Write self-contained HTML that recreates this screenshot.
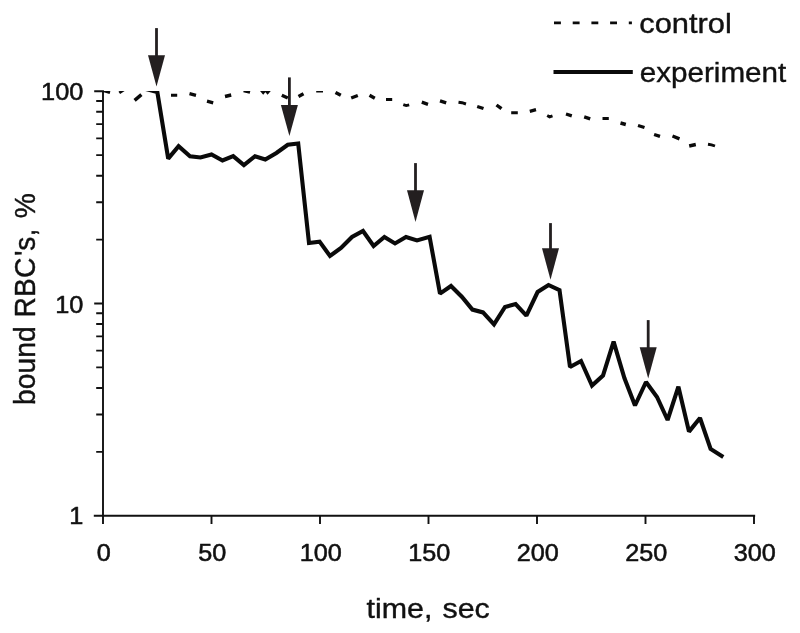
<!DOCTYPE html>
<html><head><meta charset="utf-8"><title>bound RBC's vs time</title>
<style>html,body{margin:0;padding:0;background:#fff}body{width:800px;height:633px;overflow:hidden}svg text{font-family:"Liberation Sans",sans-serif}</style></head>
<body>
<svg width="800" height="633" viewBox="0 0 800 633" style="display:block">
<rect width="800" height="633" fill="#fff"/>
<defs><clipPath id="c"><rect x="100" y="91" width="700" height="430"/></clipPath></defs>
<path d="M103.0,90.35 V516.65 M93.8,515.75 H755.15 M103.00,515.75 V523.9 M211.50,515.75 V523.9 M320.00,515.75 V523.9 M428.50,515.75 V523.9 M537.00,515.75 V523.9 M645.50,515.75 V523.9 M754.00,515.75 V523.9 M94.2,91.25 H103.0 M94.2,303.50 H103.0 M94.2,515.75 H103.0 M96.2,239.61 H103.0 M96.2,202.23 H103.0 M96.2,175.71 H103.0 M96.2,155.14 H103.0 M96.2,138.34 H103.0 M96.2,124.13 H103.0 M96.2,111.82 H103.0 M96.2,100.96 H103.0 M96.2,451.86 H103.0 M96.2,414.48 H103.0 M96.2,387.96 H103.0 M96.2,367.39 H103.0 M96.2,350.59 H103.0 M96.2,336.38 H103.0 M96.2,324.07 H103.0 M96.2,313.21 H103.0" fill="none" stroke="#111" stroke-width="1.9"/>
<g clip-path="url(#c)"><path d="M103.3,90.7 L110,92.7 M119.3,92.9 L125,89 M171,95.3 L177.2,95.3 M243.6,90.8 L250,92.4 M261,89.9 L263.2,92.5 L265.4,89.9 L267.6,92.5 L269.8,89.9 M316.2,91.1 L323,91.1 M386,99.5 L392.2,99.5 M403.3,104.6 L406.2,105.6 L409.2,104.8 M458.5,102.2 L462,102.7 L466,104 M511.2,112.7 L517.8,112.7 M547.2,115.5 L549.6,116.8 L552.5,115.8 M602.5,118.5 L608.8,118.5 M708,144.2 L711.5,144.8 L715,146" fill="none" stroke="#0a0a0a" stroke-width="2.9" stroke-linejoin="miter"/><path d="M134.6,100.4 L141.4,94.6 M189.5,93.7 L196,95.3 M207,101.2 L213.2,102.8 M225,96.5 L231.2,95 M281.8,95.2 L287.8,98 M298.5,96.5 L303.5,93.8 M335.5,92.5 L340.8,95.3 M351.2,98 L357.8,95.5 M369.5,95.3 L374.8,98.2 M421.8,102.2 L428,104.3 M440,100.8 L446.2,102.8 M477.2,106.5 L483.5,108.5 M496.5,105 L501.5,108.7 M529.8,111.3 L536,109.7 M566,114 L571.8,115.8 M584.2,116.8 L590.2,118.8 M620.5,123 L625.8,124.5 M638,125.5 L644.5,127.5 M654.1,134.5 L660,136.4 M672.5,136 L679.5,138.8 M689.2,146 L695.8,144.5" fill="none" stroke="#0a0a0a" stroke-width="3.4"/>
<polyline points="145.0,88.8 157.3,91.9 168.2,158.6 178.6,146.2 190.0,156.2 200.5,157.5 211.5,154.5 222.5,160.5 233.2,156.2 243.9,165.0 255.0,156.2 265.3,159.5 276.4,153.0 287.8,144.8 298.2,143.5 309.0,243.0 319.6,241.6 330.0,256.0 341.0,248.0 352.0,237.0 363.0,231.0 373.6,246.0 384.4,237.0 395.0,243.4 406.0,237.0 417.0,240.4 429.6,236.8 440.0,293.6 451.0,286.0 462.0,297.0 472.4,309.6 483.0,312.4 494.0,324.4 505.0,307.0 515.6,304.0 526.4,315.6 537.6,292.0 548.5,285.0 559.5,290.2 570.0,367.0 581.0,361.0 592.0,385.6 603.0,375.5 613.6,341.7 624.4,378.0 635.0,405.5 646.0,382.0 657.0,397.0 667.6,420.0 678.4,386.7 689.0,431.6 700.0,418.0 710.6,449.0 723.3,456.9" fill="none" stroke="#0a0a0a" stroke-width="4.1" stroke-linejoin="miter" stroke-miterlimit="1.75"/></g>
<line x1="156.5" y1="28.1" x2="156.5" y2="56.2" stroke="#231f20" stroke-width="2.8"/><polygon points="148.0,55.2 165.0,55.2 156.5,86.5" fill="#231f20"/>
<line x1="289.4" y1="77.4" x2="289.4" y2="106" stroke="#231f20" stroke-width="2.8"/><polygon points="280.9,105 297.9,105 289.4,135.9" fill="#231f20"/>
<line x1="415.5" y1="163.1" x2="415.5" y2="191.2" stroke="#231f20" stroke-width="2.8"/><polygon points="407.0,190.2 424.0,190.2 415.5,222.0" fill="#231f20"/>
<line x1="550.5" y1="223.1" x2="550.5" y2="249.2" stroke="#231f20" stroke-width="2.8"/><polygon points="542.0,248.2 559.0,248.2 550.5,279.7" fill="#231f20"/>
<line x1="648.2" y1="320.1" x2="648.2" y2="348.2" stroke="#231f20" stroke-width="2.8"/><polygon points="639.7,347.2 656.7,347.2 648.2,378.5" fill="#231f20"/>
<line x1="554" y1="22.9" x2="631.9" y2="22.9" stroke="#0a0a0a" stroke-width="2.9" stroke-dasharray="6.9 11.8"/>
<line x1="553.5" y1="72.1" x2="632.8" y2="72.1" stroke="#0a0a0a" stroke-width="4"/>
<text transform="translate(639.3,32.7) scale(1.09,1)" font-size="28.3" text-anchor="start" stroke="#111" stroke-width="0.4" stroke-linejoin="round" fill="#111">control</text>
<text transform="translate(639.7,81.8) scale(1.047,1)" font-size="28.3" text-anchor="start" stroke="#111" stroke-width="0.4" stroke-linejoin="round" fill="#111">experiment</text>
<text transform="translate(103.8,560.6) scale(1.03,1)" font-size="24.5" text-anchor="middle" stroke="#111" stroke-width="0.55" stroke-linejoin="round" fill="#111">0</text>
<text transform="translate(212.3,560.6) scale(1.03,1)" font-size="24.5" text-anchor="middle" stroke="#111" stroke-width="0.55" stroke-linejoin="round" fill="#111">50</text>
<text transform="translate(320.8,560.6) scale(1.03,1)" font-size="24.5" text-anchor="middle" stroke="#111" stroke-width="0.55" stroke-linejoin="round" fill="#111">100</text>
<text transform="translate(429.3,560.6) scale(1.03,1)" font-size="24.5" text-anchor="middle" stroke="#111" stroke-width="0.55" stroke-linejoin="round" fill="#111">150</text>
<text transform="translate(537.8,560.6) scale(1.03,1)" font-size="24.5" text-anchor="middle" stroke="#111" stroke-width="0.55" stroke-linejoin="round" fill="#111">200</text>
<text transform="translate(646.3,560.6) scale(1.03,1)" font-size="24.5" text-anchor="middle" stroke="#111" stroke-width="0.55" stroke-linejoin="round" fill="#111">250</text>
<text transform="translate(754.8,560.6) scale(1.03,1)" font-size="24.5" text-anchor="middle" stroke="#111" stroke-width="0.55" stroke-linejoin="round" fill="#111">300</text>
<text transform="translate(83.4,99.5) scale(1.03,1)" font-size="24.6" text-anchor="end" stroke="#111" stroke-width="0.55" stroke-linejoin="round" fill="#111">100</text>
<text transform="translate(83.4,312.5) scale(1.03,1)" font-size="24.6" text-anchor="end" stroke="#111" stroke-width="0.55" stroke-linejoin="round" fill="#111">10</text>
<text transform="translate(83.4,524.4) scale(1.03,1)" font-size="24.6" text-anchor="end" stroke="#111" stroke-width="0.55" stroke-linejoin="round" fill="#111">1</text>
<text transform="translate(428.1,618.4) scale(1.075,1)" font-size="28.3" text-anchor="middle" word-spacing="1.5" stroke="#111" stroke-width="0.4" stroke-linejoin="round" fill="#111">time, sec</text>
<text transform="translate(35.2,299) scale(1.075,1) rotate(-90)" font-size="28.3" text-anchor="middle" word-spacing="2.6" stroke="#111" stroke-width="0.4" stroke-linejoin="round" fill="#111">bound<tspan dx="-1.6"> RBC</tspan><tspan dx="1.6">'s, %</tspan></text>
</svg>
</body></html>
